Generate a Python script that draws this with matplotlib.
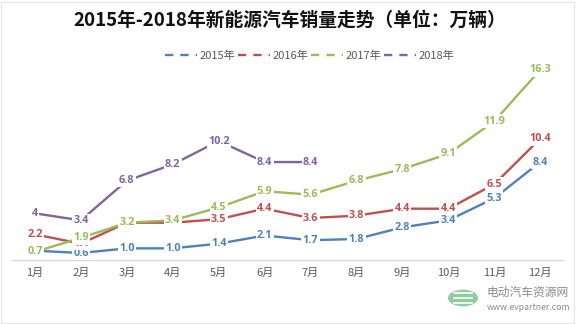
import matplotlib
matplotlib.use("Agg")
from matplotlib import pyplot as plt
from matplotlib.patches import Circle, Rectangle
import numpy as np

plt.rcParams['font.family'] = ['Noto Sans CJK SC', 'DejaVu Sans']

months = ['1月', '2月', '3月', '4月', '5月', '6月', '7月', '8月', '9月', '10月', '11月', '12月']
years = ['2015年', '2016年', '2017年', '2018年']
sales_2015 = [0.8, 0.6, 1.0, 1.0, 1.4, 2.1, 1.7, 1.8, 2.8, 3.4, 5.3, 8.4]
sales_2016 = [2.2, 1.4, 3.2, 3.2, 3.5, 4.4, 3.6, 3.8, 4.4, 4.4, 6.5, 10.4]
sales_2017 = [0.7, 1.9, 3.2, 3.4, 4.5, 5.9, 5.6, 6.8, 7.8, 9.1, 11.9, 16.3]
sales_2018 = [4, 3.4, 6.8, 8.2, 10.2, 8.4, 8.4]
label_text_2018 = ['4', '3.4', '6.8', '8.2', '10.2', '8.4', '8.4']

colors = ['#4F81BD', '#C0504D', '#9BBB59', '#8064A2']

fig = plt.figure(figsize=(5.79, 3.24), dpi=100)
ax = fig.add_axes([0.0207, 0.1975, 0.952, 0.612])

series = [sales_2015, sales_2016, sales_2017, sales_2018]
for i, (vals, col, name) in enumerate(zip(series, colors, years)):
    x = np.arange(len(vals))
    ax.plot(x, vals, color=col, lw=1.7, zorder=2 + i * 2, label=name,
            solid_capstyle='butt')
    for j, v in enumerate(vals):
        txt = label_text_2018[j] if i == 3 else f'{v:.1f}'
        ax.text(j, v, txt, ha='center', va='center', fontsize=7.8,
                fontweight='bold', color=col, family=['Open Sans', 'DejaVu Sans'],
                zorder=3 + i * 2,
                bbox=dict(boxstyle='square,pad=0.12', fc='white', ec='none'))

ax.set_xlim(-0.5, 11.5)
ax.set_ylim(0, 17)
ax.set_xticks(np.arange(12))
ax.set_xticklabels(months, fontsize=8, color='#595959')
ax.set_yticks([])
ax.tick_params(axis='x', length=0, pad=6)
for s in ['top', 'right', 'left']:
    ax.spines[s].set_visible(False)
ax.spines['bottom'].set_color('#D9D9D9')
ax.spines['bottom'].set_linewidth(1.0)

# legend with dashed swatches
handles = [plt.Line2D([], [], color=c, lw=1.7, ls=(0, (3.5, 3))) for c in colors]
fig.legend(handles, years, loc='center', bbox_to_anchor=(0.535, 0.827), ncol=4,
           frameon=False, fontsize=8, labelcolor='#595959', handlelength=2.8,
           handletextpad=0.25, columnspacing=0.3)

fig.text(0.5, 0.938, '2015年-2018年新能源汽车销量走势（单位：万辆）', ha='center',
         va='center', fontsize=13.5, fontweight='bold', color='#111111')

# site mark in the lower right corner
fig.patches.append(Circle((463 / 579, 1 - 298 / 324), 15 / 579, transform=fig.transFigure,
                          fc='#7DC38F', ec='none', alpha=0.85))
for dy in (-5, 0, 5):
    fig.lines.append(plt.Line2D([454 / 579, 472 / 579], [1 - (298 + dy) / 324] * 2,
                                transform=fig.transFigure, color='white', lw=1.2))
fig.text(487 / 579, 1 - 292 / 324, '电动汽车资源网', fontsize=8.5, color='#8C8C8C',
         va='center', ha='left')
fig.text(487 / 579, 1 - 307 / 324, 'www.evpartner.com', fontsize=6.3, color='#8C8C8C',
         va='center', ha='left')

fig.patches.append(Rectangle((0.002, 0.003), 0.99, 0.99, transform=fig.transFigure,
                             fill=False, ec='#E3E3E3', lw=0.8))

fig.savefig('out.png', dpi=100)
